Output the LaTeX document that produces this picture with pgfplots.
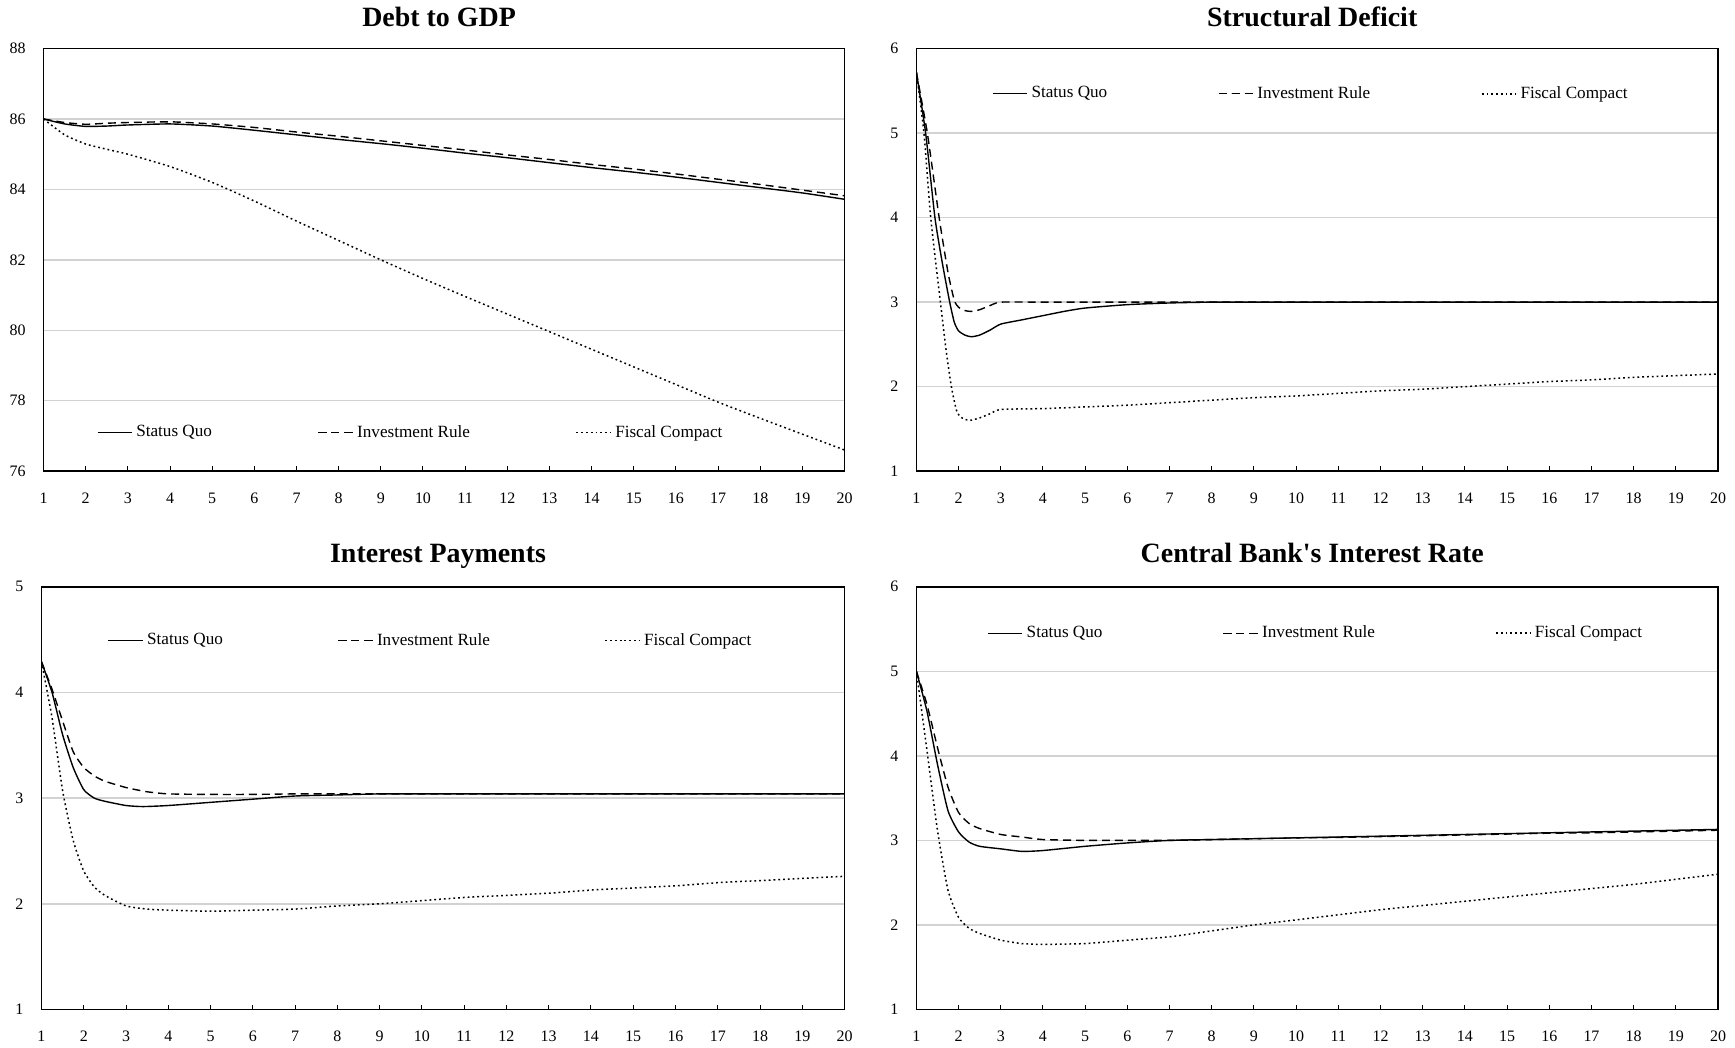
\documentclass[border=0pt]{standalone}
\usepackage{pgfplots}
\pgfplotsset{compat=1.18}
\usepackage{fontspec}
\setmainfont{Liberation Serif}[Ligatures=TeXOff]
\begin{document}
\pgfplotsset{
  panel/.style={
    scale only axis,
    xmin=1, xmax=20,
    xtick={1,...,20},
    tick pos=left,
    tick align=inside,
    major tick length=2.5pt,
    xtick style={black, line width=0.5pt},
    ytick style={draw=none},
    ymajorgrids,
    grid style={gray!35, line width=0.7pt},
    axis line style={black, line width=0.8pt},
    tick label style={font=\fontsize{8}{9}\selectfont},
    /pgf/number format/assume math mode=true,
    xticklabel style={yshift=-7.3pt},
    yticklabel style={xshift=-5.5pt},
    title style={font=\bfseries\fontsize{14}{16}\selectfont, at={(0.5,1)}, anchor=base, xshift=-2.5pt},
    every axis plot/.append style={black, line width=0.7pt, no markers, smooth, tension=0.35},
    legend cell align=left,
    legend style={draw=none, fill=none, legend columns=3, inner xsep=0pt,
      font=\fontsize{8.6}{10}\selectfont, anchor=west},
  },
  sq/.style={solid},
  ir/.style={dash pattern=on 4pt off 2.5pt},
  fc/.style={line width=0.75pt, dash pattern=on 0.9pt off 1.5pt},
}
\begin{tikzpicture}
\path[use as bounding box] (0,0) rectangle (867.5pt,-525.5pt);

% ---------------- Debt to GDP ----------------
\begin{axis}[panel, at={(19.35pt,-24.35pt)}, anchor=north west,
  width=401.65pt, height=211.9pt,
  ymin=76, ymax=88, ytick={76,78,...,88},
  title={Debt to GDP}, title style={yshift=4.85pt},
  legend style={at={(axis description cs:0.066,0.091)},
    /tikz/every even column/.append style={column sep=51pt}}]
\addplot[sq] coordinates {(1,86.00) (1.5,85.86) (2,85.79) (2.5,85.80) (3,85.83) (4,85.86) (5,85.80) (6,85.68) (7,85.55) (8,85.42) (9,85.30) (10,85.17) (11,85.03) (12,84.90) (13,84.76) (14,84.62) (15,84.49) (16,84.35) (17,84.20) (18,84.05) (19,83.90) (20,83.72)};
\addplot[ir] coordinates {(1,86.00) (1.5,85.90) (2,85.85) (2.5,85.88) (3,85.90) (4,85.92) (5,85.86) (6,85.76) (7,85.63) (8,85.51) (9,85.38) (10,85.25) (11,85.12) (12,84.98) (13,84.85) (14,84.71) (15,84.58) (16,84.44) (17,84.29) (18,84.14) (19,83.98) (20,83.82)};
\addplot[fc] coordinates {(1,86.00) (1.5,85.55) (2,85.29) (2.5,85.14) (3,85.00) (4,84.65) (5,84.20) (6,83.67) (7,83.10) (8,82.55) (9,82.00) (10,81.47) (11,80.96) (12,80.46) (13,79.96) (14,79.46) (15,78.96) (16,78.46) (17,77.96) (18,77.50) (19,77.05) (20,76.60)};
\legend{Status Quo, Investment Rule, Fiscal Compact}
\end{axis}

% ---------------- Structural Deficit ----------------
\begin{axis}[panel, at={(457pt,-24.35pt)}, anchor=north west,
  width=402pt, height=211.9pt,
  ymin=1, ymax=6, ytick={1,...,6},
  title={Structural Deficit}, title style={yshift=4.85pt},
  legend style={at={(axis description cs:0.094,0.893)},
    /tikz/every even column/.append style={column sep=53.5pt}}]
\addplot[sq] coordinates {(1,5.72) (1.22,5.0) (1.44,4.0) (1.62,3.45) (1.79,3.0) (1.9,2.76) (2,2.66) (2.15,2.61) (2.3,2.59) (2.5,2.61) (2.75,2.67) (3,2.74) (3.5,2.79) (4,2.84) (4.5,2.89) (5,2.93) (6,2.97) (7,2.99) (8,3.0) (9,3.0) (10,3.0) (12,3.0) (14,3.0) (16,3.0) (18,3.0) (20,3.0)};
\addplot[ir] coordinates {(1,5.72) (1.26,5.0) (1.54,4.0) (1.75,3.35) (1.9,3.02) (2,2.94) (2.15,2.9) (2.3,2.89) (2.5,2.91) (2.75,2.96) (3,3.0) (4,3.0) (6,3.0) (8,3.0) (10,3.0) (12,3.0) (14,3.0) (16,3.0) (18,3.0) (20,3.0)};
\addplot[fc] coordinates {(1,5.72) (1.18,5.0) (1.34,4.0) (1.57,3.0) (1.7,2.45) (1.83,2.0) (1.95,1.72) (2.05,1.64) (2.25,1.6) (2.5,1.63) (2.75,1.68) (3,1.73) (4,1.74) (5,1.76) (6,1.78) (7,1.81) (8,1.84) (9,1.87) (10,1.89) (11,1.92) (12,1.95) (13,1.97) (14,2.0) (15,2.03) (16,2.06) (17,2.08) (18,2.11) (19,2.13) (20,2.15)};
\legend{Status Quo, Investment Rule, Fiscal Compact}
\end{axis}

% ---------------- Interest Payments ----------------
\begin{axis}[panel, at={(18.3pt,-294.2pt)}, anchor=north west,
  width=402.7pt, height=212pt,
  ymin=1, ymax=5, ytick={1,...,5},
  title={Interest Payments}, title style={yshift=5.95pt},
  legend style={at={(axis description cs:0.082,0.8725)},
    /tikz/every even column/.append style={column sep=55.5pt}}]
\addplot[sq] coordinates {(1,4.29) (1.25,4.0) (1.5,3.6) (1.75,3.29) (2,3.08) (2.25,3.0) (2.5,2.97) (3,2.93) (3.4,2.92) (4,2.93) (5,2.96) (6,2.99) (7,3.02) (8,3.03) (9,3.04) (10,3.04) (12,3.04) (14,3.04) (16,3.04) (18,3.04) (20,3.04)};
\addplot[ir] coordinates {(1,4.29) (1.25,4.03) (1.5,3.73) (1.75,3.44) (2,3.29) (2.25,3.21) (2.5,3.16) (3,3.1) (3.5,3.06) (4,3.04) (5,3.035) (6,3.035) (7,3.04) (8,3.04) (10,3.04) (12,3.04) (14,3.04) (16,3.04) (18,3.04) (20,3.04)};
\addplot[fc] coordinates {(1,4.29) (1.25,3.76) (1.5,3.07) (1.75,2.6) (2,2.31) (2.25,2.16) (2.5,2.08) (3,1.98) (3.5,1.95) (4,1.94) (5,1.93) (6,1.94) (7,1.95) (8,1.98) (9,2.0) (10,2.03) (11,2.06) (12,2.08) (13,2.1) (14,2.13) (15,2.15) (16,2.17) (17,2.2) (18,2.22) (19,2.24) (20,2.26)};
\legend{Status Quo, Investment Rule, Fiscal Compact}
\end{axis}

% ---------------- Central Bank's Interest Rate ----------------
\begin{axis}[panel, at={(457pt,-294.2pt)}, anchor=north west,
  width=402pt, height=212pt,
  ymin=1, ymax=6, ytick={1,...,6},
  title={Central Bank's Interest Rate}, title style={yshift=5.95pt},
  legend style={at={(axis description cs:0.088,0.890)},
    /tikz/every even column/.append style={column sep=58.3pt}}]
\addplot[sq] coordinates {(1,5.0) (1.25,4.53) (1.5,3.9) (1.75,3.35) (2,3.1) (2.25,2.98) (2.5,2.93) (3,2.9) (3.5,2.87) (4,2.88) (5,2.93) (6,2.97) (7,3.0) (8,3.01) (9,3.02) (10,3.03) (11,3.04) (12,3.05) (13,3.06) (14,3.07) (15,3.08) (16,3.09) (17,3.1) (18,3.11) (19,3.12) (20,3.13)};
\addplot[ir] coordinates {(1,5.0) (1.25,4.61) (1.5,4.1) (1.75,3.63) (2,3.33) (2.25,3.2) (2.5,3.14) (3,3.07) (3.5,3.04) (4,3.01) (5,3.0) (6,3.0) (7,3.0) (8,3.01) (9,3.02) (10,3.03) (11,3.035) (12,3.045) (13,3.055) (14,3.065) (15,3.075) (16,3.085) (17,3.09) (18,3.1) (19,3.11) (20,3.12)};
\addplot[fc] coordinates {(1,5.0) (1.25,4.07) (1.5,3.12) (1.75,2.41) (2,2.09) (2.25,1.96) (2.5,1.9) (3,1.82) (3.5,1.78) (4,1.77) (5,1.78) (6,1.82) (7,1.86) (8,1.93) (9,2.0) (10,2.06) (11,2.12) (12,2.18) (13,2.23) (14,2.28) (15,2.33) (16,2.38) (17,2.43) (18,2.48) (19,2.54) (20,2.6)};
\legend{Status Quo, Investment Rule, Fiscal Compact}
\end{axis}
\end{tikzpicture}
\end{document}
